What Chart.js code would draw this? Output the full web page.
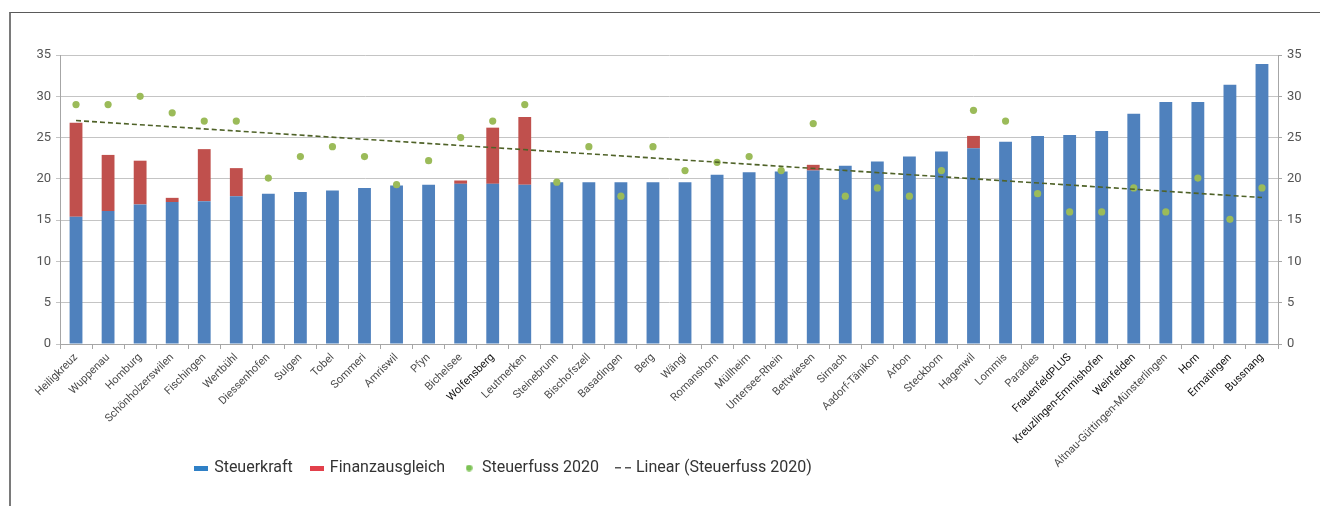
<!DOCTYPE html>
<html>
<head>
<meta charset="utf-8">
<script src="https://cdn.jsdelivr.net/npm/chart.js@4.4.1/dist/chart.umd.min.js"></script>
<style>
    body { margin: 0; background: #fff; }
    #wrap { position: relative; width: 1320px; height: 506px; overflow: hidden; }
    #frame { position: absolute; left: 9px; top: 12px; right: 0; bottom: 0; border-top: 1px solid #5a5a5a; border-left: 2px solid #7a7a7a; }
    #chart { position: absolute; left: 0; top: 0; }
</style>
</head>
<body>
<div id="wrap">
    <div id="frame"></div>
    <canvas id="chart" width="1320" height="506"></canvas>
</div>
<script>
const gemeinden = ["Heiligkreuz", "Wuppenau", "Homburg", "Schönholzerswilen", "Fischingen", "Wertbühl",
    "Diessenhofen", "Sulgen", "Tobel", "Sommeri", "Amriswil", "Pfyn", "Bichelsee", "Wolfensberg",
    "Leutmerken", "Steinebrunn", "Bischofszell", "Basadingen", "Berg", "Wängi", "Romanshorn", "Müllheim",
    "Untersee-Rhein", "Bettwiesen", "Sirnach", "Aadorf-Tänikon", "Arbon", "Steckborn", "Hagenwil", "Lommis",
    "Paradies", "FrauenfeldPLUS", "Kreuzlingen-Emmishofen", "Weinfelden", "Altnau-Güttingen-Münsterlingen",
    "Horn", "Ermatingen", "Bussnang"];

const steuerkraft = [15.4, 16.1, 16.9, 17.2, 17.3, 17.9, 18.2, 18.4, 18.6, 18.9, 19.2, 19.3, 19.4, 19.4,
    19.3, 19.6, 19.6, 19.6, 19.6, 19.6, 20.5, 20.8, 20.9, 21.0, 21.6, 22.1, 22.7, 23.3, 23.7, 24.5,
    25.2, 25.3, 25.8, 27.9, 29.3, 29.3, 31.4, 33.9];

const finanzausgleich = [11.4, 6.8, 5.3, 0.5, 6.3, 3.4, 0, 0, 0, 0, 0, 0, 0.4, 6.8,
    8.2, 0, 0, 0, 0, 0, 0, 0, 0, 0.7, 0, 0, 0, 0, 1.5, 0,
    0, 0, 0, 0, 0, 0, 0, 0];

const steuerfuss = [29, 29, 30, 28, 27, 27, 20.1, 22.7, 23.9, 22.7, 19.3, 22.2, 25, 27,
    29, 19.6, 23.9, 17.9, 23.9, 21, 22, 22.7, 21, 26.7, 17.9, 18.9, 17.9, 21, 28.3, 27,
    18.2, 16, 16, 18.9, 16, 20.1, 15.1, 18.9];

// Excel trendline: only its two end values are kept, the line spans the gap
const trendStart = 27.06;
const trendEnd = 17.74;
const trend = gemeinden.map((g, i) => i === 0 ? trendStart : (i === gemeinden.length - 1 ? trendEnd : null));

// labels printed darker on the axis
const darkLabels = ["Wolfensberg", "FrauenfeldPLUS", "Kreuzlingen-Emmishofen", "Weinfelden", "Horn", "Ermatingen", "Bussnang"];

const FONT = '"Liberation Sans Narrow", "Arial Narrow", Roboto, sans-serif';

function swatch(w, h, draw) {
    const c = document.createElement("canvas");
    c.width = w; c.height = h;
    draw(c.getContext("2d"));
    return c;
}
const swBlue = swatch(14, 5, g => { g.fillStyle = "#2f80c6"; g.fillRect(0, 0, 14, 5); });
const swRed = swatch(14, 5, g => { g.fillStyle = "#e2404b"; g.fillRect(0, 0, 14, 5); });
const swGreen = swatch(7, 7, g => { g.fillStyle = "#7cc254"; g.beginPath(); g.arc(3.5, 3.5, 3.2, 0, Math.PI * 2); g.fill(); });
const swDash = swatch(16, 3, g => { g.fillStyle = "#555"; g.fillRect(0, 0, 6, 2); g.fillRect(10, 0, 6, 2); });

const layoutFix = {
    id: "layoutFix",
    afterLayout(chart) {
        // centre the legend under the left part of the plot
        const lg = chart.legend;
        const w = lg.right - lg.left;
        const c = 504;
        lg.left = c - w / 2;
        lg.right = c + w / 2;
        lg.top += 3;
        lg.bottom += 3;
        // long category names may run past the axis box, don't clip them
        chart.scales.x.bottom = chart.height;
    }
};

const ctx = document.getElementById("chart");
const chart = new Chart(ctx, {
    type: "bar",
    data: {
        labels: gemeinden,
        datasets: [
            { label: "Steuerkraft", data: steuerkraft, backgroundColor: "#4f81bd", stack: "s",
              barPercentage: 0.4, categoryPercentage: 1, order: 2 },
            { label: "Finanzausgleich", data: finanzausgleich, backgroundColor: "#c0504d", stack: "s",
              barPercentage: 0.4, categoryPercentage: 1, order: 2 },
            { type: "line", label: "Steuerfuss 2020", data: steuerfuss, yAxisID: "y2", showLine: false,
              pointRadius: 3.6, pointBackgroundColor: "#9bbb59", pointBorderWidth: 0, order: 1 },
            { type: "line", label: "Linear (Steuerfuss 2020)", data: trend, yAxisID: "y2", spanGaps: true,
              borderColor: "#4f6228", borderWidth: 1.6, borderDash: [5, 3], pointRadius: 0, order: 0 }
        ]
    },
    options: {
        responsive: false,
        animation: false,
        layout: { padding: { left: 20, right: 0, top: 55, bottom: 23 } },
        plugins: {
            tooltip: { enabled: false },
            legend: {
                position: "bottom",
                labels: {
                    usePointStyle: true,
                    pointStyleWidth: 10,
                    padding: 19,
                    color: "#333",
                    font: { family: FONT, size: 16 },
                    generateLabels: () => [
                        { text: "Steuerkraft", pointStyle: swBlue },
                        { text: "Finanzausgleich", pointStyle: swRed },
                        { text: "Steuerfuss 2020", pointStyle: swGreen },
                        { text: "Linear (Steuerfuss 2020)", pointStyle: swDash }
                    ].map((it, i) => ({ ...it, datasetIndex: i, hidden: false, lineWidth: 0,
                        fillStyle: "transparent", strokeStyle: "transparent", fontColor: "#333" }))
                }
            }
        },
        scales: {
            x: {
                stacked: true,
                grid: { offset: true, drawOnChartArea: false, color: "#a6a6a6", tickLength: 5 },
                border: { color: "#a6a6a6" },
                ticks: {
                    autoSkip: false, maxRotation: 45, minRotation: 45, padding: 2,
                    font: { family: FONT, size: 11 },
                    color: c => darkLabels.includes(gemeinden[c.index]) ? "#111" : "#4a4a4a"
                },
                afterFit: s => { s.height = 94; }
            },
            y: {
                stacked: true, min: 0, max: 35,
                ticks: { stepSize: 5, padding: 5, color: "#555", font: { family: FONT, size: 13 } },
                grid: { color: "#c4c4c4", tickLength: 4 },
                border: { color: "#a6a6a6" },
                afterFit: s => { s.width = 40; }
            },
            y2: {
                position: "right", min: 0, max: 35,
                ticks: { stepSize: 5, padding: 5, color: "#555", font: { family: FONT, size: 13 } },
                grid: { drawOnChartArea: false, color: "#a6a6a6", tickLength: 4 },
                border: { color: "#a6a6a6" },
                afterFit: s => { s.width = 42; }
            }
        }
    },
    plugins: [layoutFix]
});
</script>
</body>
</html>
